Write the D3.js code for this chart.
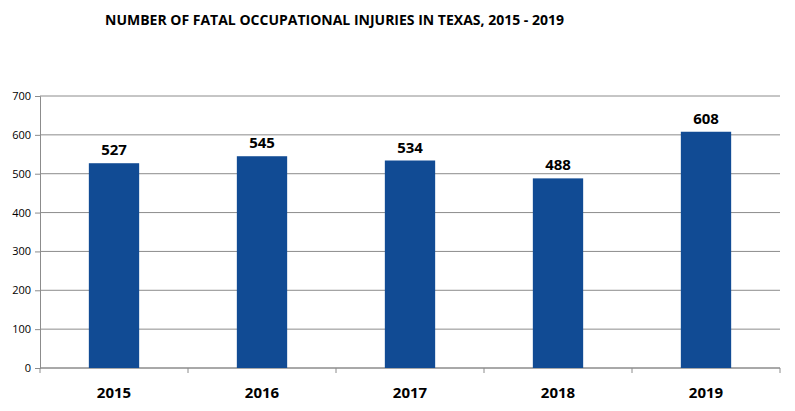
<!DOCTYPE html>
<html><head><meta charset="utf-8">
<script src="https://cdn.jsdelivr.net/npm/d3@7"></script>
<style>body{margin:0;background:#fff;font-family:"Open Sans",sans-serif}</style>
</head><body>
<svg id="chart" width="795" height="411"></svg>
<script>
let years = ['2015', '2016', '2017', '2018', '2019']
let deaths = [527, 545, 534, 488, 608]
let yTicks = [0, 100, 200, 300, 400, 500, 600, 700]

let margin = { top: 96, right: 15, bottom: 43, left: 40 },
  width = 795 - margin.left - margin.right,
  height = 411 - margin.top - margin.bottom

let svg = d3.select('#chart')
svg.append('text')
  .attr('x', 105).attr('y', 25)
  .attr('font-size', '14px').attr('font-weight', 'bold')
  .text('NUMBER OF FATAL OCCUPATIONAL INJURIES IN TEXAS, 2015 - 2019')

let g = svg.append('g').attr('transform', `translate(${margin.left},${margin.top})`)

let x = d3.scaleBand().domain(years).range([0, width]).paddingInner(0.66).paddingOuter(0.33)
let y = d3.scaleLinear().domain([0, 700]).range([height, 0])

// gridlines
g.selectAll('.grid').data(yTicks).join('line')
  .attr('x1', 0).attr('x2', width)
  .attr('y1', d => y(d)).attr('y2', d => y(d))
  .attr('stroke', '#8c8c8c').attr('stroke-width', 1)

let yAxis = g.append('g').call(d3.axisLeft(y).tickValues(yTicks).tickSize(5).tickPadding(4))
yAxis.select('.domain').attr('stroke', '#8c8c8c')
yAxis.selectAll('line').attr('stroke', '#8c8c8c')
yAxis.selectAll('text').attr('font-size', '11px').attr('font-family', 'Open Sans')

// category separators
let step = width / years.length
g.append('line').attr('x1', 0).attr('x2', width).attr('y1', height).attr('y2', height).attr('stroke', '#8c8c8c')
g.selectAll('.sep').data(d3.range(years.length + 1)).join('line')
  .attr('x1', d => d * step).attr('x2', d => d * step)
  .attr('y1', height).attr('y2', height + 5)
  .attr('stroke', '#8c8c8c')

g.selectAll('.xl').data(years).join('text')
  .attr('x', d => x(d) + x.bandwidth() / 2).attr('y', height + 30)
  .attr('text-anchor', 'middle').attr('font-size', '15px').attr('font-weight', 'bold')
  .text(d => d)

g.selectAll('.bar').data(years).join('rect')
  .attr('x', d => x(d)).attr('width', x.bandwidth())
  .attr('y', (d, i) => y(deaths[i])).attr('height', (d, i) => height - y(deaths[i]))
  .attr('fill', '#114b94')

g.selectAll('.lbl').data(years).join('text')
  .attr('x', d => x(d) + x.bandwidth() / 2).attr('y', (d, i) => y(deaths[i]) - 8)
  .attr('text-anchor', 'middle').attr('font-size', '15px').attr('font-weight', 'bold')
  .text((d, i) => deaths[i])
</script>
</body></html>
